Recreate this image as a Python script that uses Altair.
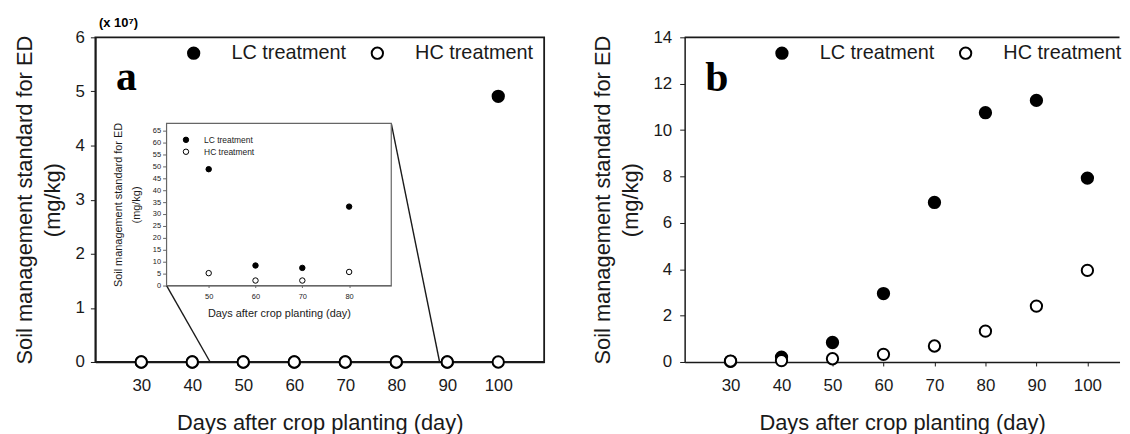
import altair as alt
import pandas as pd

# ---------------- data ----------------
days = [30, 40, 50, 60, 70, 80, 90, 100]
series = ["LC treatment", "HC treatment"]
a_lc = [0, 0, 0, 0, 0, 0, 0, 4.91]          # x 10^7 mg/kg
a_hc = [0, 0, 0, 0, 0, 0, 0, 0]
inset_days = [50, 60, 70, 80]
inset_lc = [48.8, 8.4, 7.4, 33.1]
inset_hc = [5.2, 2.1, 2.1, 5.7]
b_lc = [0.03, 0.21, 0.84, 2.95, 6.88, 10.75, 11.28, 7.93]
b_hc = [0.04, 0.06, 0.14, 0.33, 0.69, 1.33, 2.41, 3.95]

a_yticks = [0, 1, 2, 3, 4, 5, 6]
b_yticks = [0, 2, 4, 6, 8, 10, 12, 14]
inset_yticks = [0, 5, 10, 15, 20, 25, 30, 35, 40, 45, 50, 55, 60, 65]
inset_xticks = [50, 60, 70, 80]
ytitle = ["Soil management standard for ED", "(mg/kg)"]
xtitle = "Days after crop planting (day)"
panel_letters = ["a", "b"]
scale_note = ["(x 10\u2077)"]

# inset placement, in panel-a data units, and zoom connector targets
inset_box_x = [34.96, 79.02]
inset_box_y = [1.413, 4.409]
zoom_targets = [43.5, 88.5]

# ---------------- geometry ----------------
A_DOM = [21, 109]
B_DOM = [21, 106.3]
I_XDOM = [41, 89]
I_YDOM = [0, 68]
W_A, W_B, H = 452, 438, 327
FONT = "Liberation Sans"
INK = "#1a1a1a"


def px_x(v):
    return (v - A_DOM[0]) / (A_DOM[1] - A_DOM[0]) * W_A


def px_y(v):
    return H - v / a_yticks[-1] * H


def long(xs, lc, hc):
    rows = [{"day": d, "value": v, "treatment": series[0]} for d, v in zip(xs, lc)]
    rows += [{"day": d, "value": v, "treatment": series[1]} for d, v in zip(xs, hc)]
    return pd.DataFrame(rows)


def box(xd, yd):
    return pd.DataFrame({"day": [xd[0]], "day2": [xd[1]], "value": [yd[0]], "value2": [yd[1]]})


df_a = long(days, a_lc, a_hc)
df_b = long(days, b_lc, b_hc)
df_in = long(inset_days, inset_lc, inset_hc)
df_zoom = pd.DataFrame({
    "day": [inset_box_x[0], inset_box_x[1]],
    "value": [inset_box_y[0], inset_box_y[1]],
    "day2": zoom_targets,
    "value2": [0, 0],
})


def x_axis():
    return alt.Axis(values=days, title=xtitle, labelFontSize=17, tickSize=4,
                    labelPadding=12, titleFontSize=22, titlePadding=19,
                    domainWidth=1.5, labelFlush=False, format="d")


def y_axis(vals, pad):
    return alt.Axis(values=vals, title=ytitle, labelFontSize=17, tickSize=5,
                    labelPadding=pad, titleFontSize=22, titleLineHeight=28,
                    titlePadding=11, domainWidth=1.5, labelFlush=False, format="d")


def main_legend(lx, ly):
    return alt.Legend(title=None, orient="none", legendX=lx, legendY=ly,
                      direction="horizontal", labelFontSize=20, labelFont=FONT,
                      symbolSize=130, symbolStrokeWidth=2, symbolStrokeColor="black",
                      symbolType="circle", labelOffset=28, columnPadding=21,
                      padding=0, labelLimit=0)


fill_scale = alt.Scale(domain=series, range=["black", "white"])

# ---------------- panel a ----------------
xa = alt.X("day:Q", scale=alt.Scale(domain=A_DOM, nice=False, zero=False), axis=x_axis())
ya = alt.Y("value:Q", scale=alt.Scale(domain=[0, 6], nice=False), axis=y_axis(a_yticks, 6))

frame_a = alt.Chart(box(A_DOM, [0, 6])).mark_rect(fill=None, stroke=INK, strokeWidth=1.8).encode(
    x=xa, x2="day2:Q", y=ya, y2="value2:Q")

zoom_lines = alt.Chart(df_zoom).mark_rule(stroke=INK, strokeWidth=1.4).encode(
    x=xa, y=ya, x2="day2:Q", y2="value2:Q")

pts_a = alt.Chart(df_a).mark_circle(size=130, opacity=1, stroke="black", strokeWidth=2).encode(
    x=xa, y=ya,
    fill=alt.Fill("treatment:N", scale=fill_scale, legend=main_legend(89, 6)))

letter_a = alt.Chart(pd.DataFrame({"t": panel_letters[:1]})).mark_text(
    font="Liberation Serif", fontSize=42, fontWeight="bold", align="left",
    baseline="alphabetic", color="black").encode(
    text="t:N", x=alt.value(20.7), y=alt.value(52.7))

note = alt.Chart(pd.DataFrame({"t": scale_note})).mark_text(
    font=FONT, fontSize=13, fontWeight="bold", align="left",
    baseline="alphabetic", color="black").encode(
    text="t:N", x=alt.value(3.7), y=alt.value(-10.3))

main_a = alt.layer(frame_a, zoom_lines, pts_a, letter_a, note)

# inset (own scales mapped onto a pixel box inside panel a)
ix_range = [px_x(inset_box_x[0]), px_x(inset_box_x[1])]
iy_range = [px_y(inset_box_y[0]), px_y(inset_box_y[1])]

xi = alt.X("day:Q", scale=alt.Scale(domain=I_XDOM, range=ix_range, nice=False, zero=False),
           axis=alt.Axis(orient="bottom", offset=-(H - iy_range[0]), values=inset_xticks,
                         title=xtitle, labelFontSize=7.5, tickSize=2, labelPadding=5,
                         titleFontSize=11, titlePadding=8, titleFontWeight="normal",
                         domainColor="#666", tickColor="#666", domainWidth=1.2,
                         format="d", labelOverlap=False))
yi = alt.Y("value:Q", scale=alt.Scale(domain=I_YDOM, range=iy_range, nice=False, zero=False),
           axis=alt.Axis(orient="left", offset=-ix_range[0], values=inset_yticks,
                         title=ytitle, labelFontSize=7.5, tickSize=4, labelPadding=2,
                         titleFontSize=11, titleLineHeight=18, titlePadding=11,
                         domainColor="#666", tickColor="#666", domainWidth=1.2,
                         format="d", labelOverlap=False))

inset_frame = alt.Chart(box(I_XDOM, I_YDOM)).mark_rect(
    fill="white", stroke="#666", strokeWidth=1.2).encode(
    x=xi, x2="day2:Q", y=yi, y2="value2:Q")

inset_pts = alt.Chart(df_in).mark_circle(size=30, opacity=1, stroke="black", strokeWidth=1).encode(
    x=xi, y=yi,
    fill=alt.Fill("treatment:N", scale=fill_scale,
                  legend=alt.Legend(title=None, orient="none", legendX=87, legendY=99,
                                    direction="vertical", labelFontSize=8.5, labelFont=FONT,
                                    symbolSize=30, symbolStrokeWidth=1,
                                    symbolStrokeColor="black", symbolType="circle",
                                    labelOffset=14, rowPadding=2, padding=0)))

inset = alt.layer(inset_frame, inset_pts)

panel_a = alt.layer(main_a, inset).resolve_scale(
    x="independent", y="independent", fill="independent"
).resolve_legend(fill="independent").properties(width=W_A, height=H)

# ---------------- panel b ----------------
xb = alt.X("day:Q", scale=alt.Scale(domain=B_DOM, nice=False, zero=False), axis=x_axis())
yb = alt.Y("value:Q", scale=alt.Scale(domain=[0, 14], nice=False), axis=y_axis(b_yticks, 8))

top_b = alt.Chart(box(B_DOM, [14, 14])).mark_rule(stroke=INK, strokeWidth=1.8).encode(
    x=xb, x2="day2:Q", y=yb)

pts_b = alt.Chart(df_b).mark_circle(size=130, opacity=1, stroke="black", strokeWidth=2).encode(
    x=xb, y=yb,
    fill=alt.Fill("treatment:N", scale=fill_scale, legend=main_legend(88, 6)))

letter_b = alt.Chart(pd.DataFrame({"t": panel_letters[1:]})).mark_text(
    font="Liberation Serif", fontSize=42, fontWeight="bold", align="left",
    baseline="alphabetic", color="black").encode(
    text="t:N", x=alt.value(20.8), y=alt.value(53.7))

panel_b = alt.layer(top_b, pts_b, letter_b).properties(width=W_B, height=H)

chart = alt.hconcat(panel_a, panel_b, spacing=141.5, bounds="flush").resolve_scale(
    fill="independent"
).resolve_legend(fill="independent").properties(
    padding={"left": 5, "top": 7, "right": 0, "bottom": 0}
).configure_view(stroke=None).configure_axis(
    grid=False, labelFont=FONT, titleFont=FONT, labelColor=INK, titleColor=INK,
    titleFontWeight="normal", domainColor=INK, tickColor=INK
).configure_legend(labelColor=INK)

chart.save("out.html", embed_options={"renderer": "svg", "actions": False})
